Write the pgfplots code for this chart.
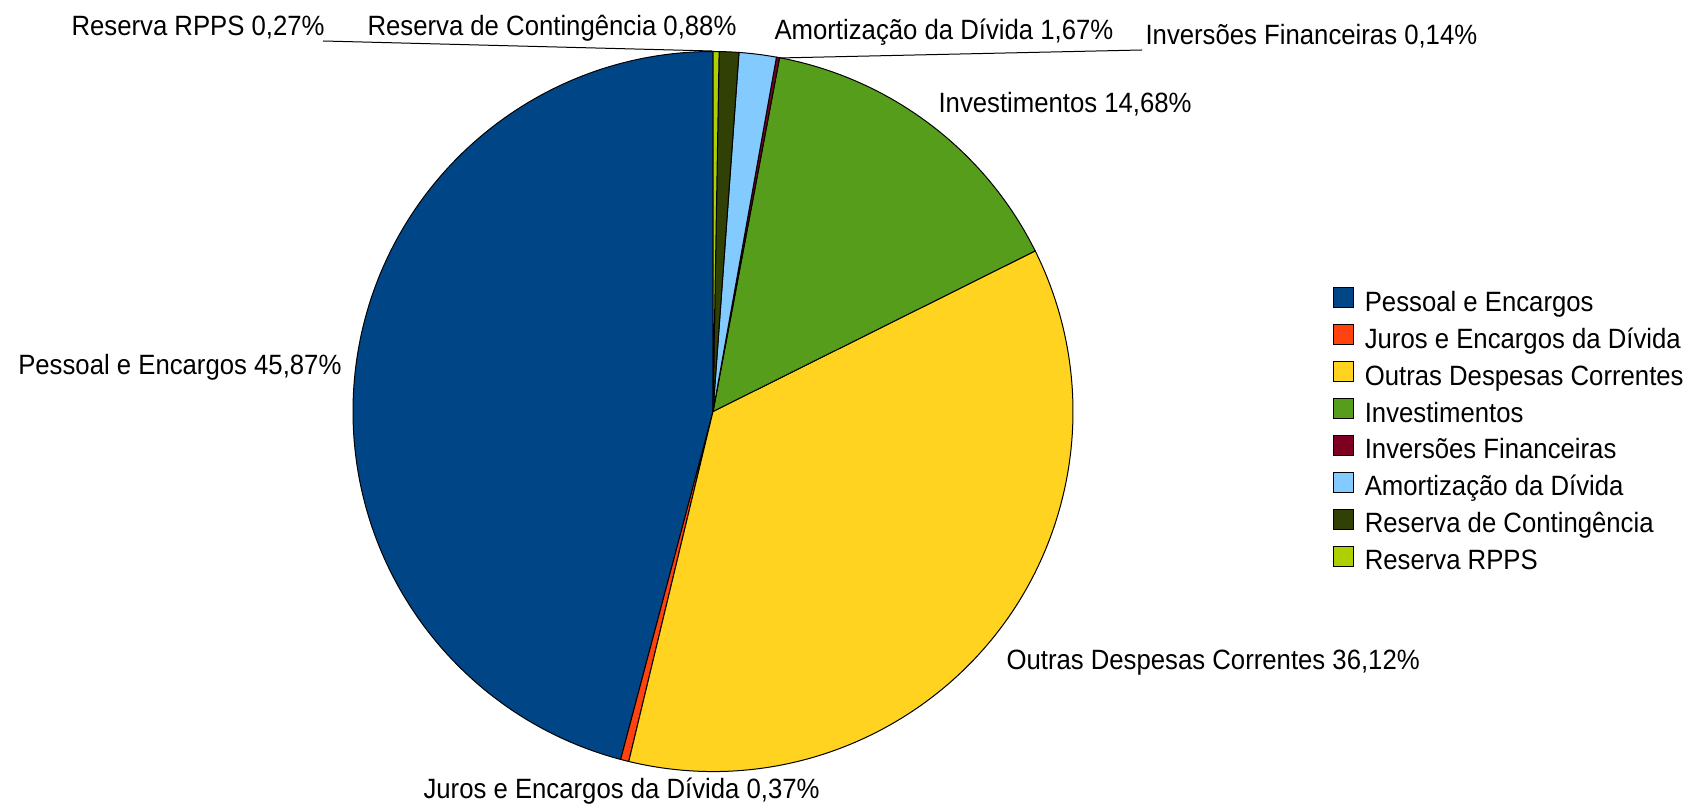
\documentclass[border=0pt]{standalone}
\usepackage{pgfplots}
\usepackage{pgfplotstable}
\usepackage{fontspec}
\setmainfont{Liberation Sans}[FakeStretch=0.922]
\pgfplotsset{compat=1.18}

\definecolor{cPessoal}{HTML}{004586}
\definecolor{cJuros}{HTML}{FF420E}
\definecolor{cOutras}{HTML}{FFD320}
\definecolor{cInvest}{HTML}{579D1C}
\definecolor{cInvers}{HTML}{7E0021}
\definecolor{cAmort}{HTML}{83CAFF}
\definecolor{cReserva}{HTML}{314004}
\definecolor{cRPPS}{HTML}{AECF00}

% share of each group, in %, counter-clockwise from 12 o'clock
\pgfplotstableread{
value color
45.87 cPessoal
0.37  cJuros
36.12 cOutras
14.68 cInvest
0.14  cInvers
1.67  cAmort
0.88  cReserva
0.27  cRPPS
}\piedata

\begin{document}
\begin{tikzpicture}[font=\fontsize{27.9}{33}\selectfont]
\begin{axis}[
  scale only axis, width=1691pt, height=806pt,
  xmin=0, xmax=1691, ymin=0, ymax=806,
  hide axis, clip=false,
  legend cell align=left,
  legend image code/.code={\path (0pt,0pt); \draw[#1, line width=0.8pt] (0pt,-4pt) rectangle (20pt,16pt);},
  legend style={at={(axis cs:1333,518.5)}, anchor=north west, draw=none, fill=none,
    inner sep=0pt, outer sep=0pt, row sep=7pt, column sep=11pt,
    nodes={inner sep=0pt, outer sep=0pt, text height=21pt, text depth=6pt}},
]
\addlegendimage{fill=cPessoal}
\addlegendimage{fill=cJuros}
\addlegendimage{fill=cOutras}
\addlegendimage{fill=cInvest}
\addlegendimage{fill=cInvers}
\addlegendimage{fill=cAmort}
\addlegendimage{fill=cReserva}
\addlegendimage{fill=cRPPS}
\legend{Pessoal e Encargos, Juros e Encargos da Dívida, Outras Despesas Correntes,
  Investimentos, Inversões Financeiras, Amortização da Dívida,
  Reserva de Contingência, Reserva RPPS}

\pgfplotsextra{
  \pgfplotstablegetrowsof{\piedata}
  \pgfmathtruncatemacro\lastrow{\pgfplotsretval-1}
  \xdef\cumangle{90}
  \foreach \i in {0,...,\lastrow}{
    \pgfplotstablegetelem{\i}{value}\of\piedata
    \pgfmathsetmacro\endangle{\cumangle+3.6*\pgfplotsretval}
    \pgfplotstablegetelem{\i}{color}\of\piedata
    \edef\slicecolor{\pgfplotsretval}
    \filldraw[fill=\slicecolor, draw=black, line width=1pt]
      (axis cs:713,394.5) -- ++(\cumangle:360pt)
      arc[start angle=\cumangle, end angle=\endangle, radius=360pt] -- cycle;
    \xdef\cumangle{\endangle}
  }
}

% leader lines
\draw[line width=1pt] (axis cs:323,765) -- (axis cs:712,755);
\draw[line width=1pt] (axis cs:1142,756) -- (axis cs:779,748);

% slice labels
\node[anchor=base east] at (axis cs:345,431) {Pessoal e Encargos 45,87\%};
\node[anchor=base west] at (axis cs:1003,136) {Outras Despesas Correntes 36,12\%};
\node[anchor=base west] at (axis cs:420,8) {Juros e Encargos da Dívida 0,37\%};
\node[anchor=base west] at (axis cs:935,693) {Investimentos 14,68\%};
\node[anchor=base west] at (axis cs:68,770) {Reserva RPPS 0,27\%};
\node[anchor=base west] at (axis cs:364,770) {Reserva de Contingência 0,88\%};
\node[anchor=base west] at (axis cs:771,766) {Amortização da Dívida 1,67\%};
\node[anchor=base west] at (axis cs:1142,761) {Inversões Financeiras 0,14\%};
\end{axis}
\pgfresetboundingbox
\path (current axis.south west) rectangle (current axis.north east);
\end{tikzpicture}
\end{document}
